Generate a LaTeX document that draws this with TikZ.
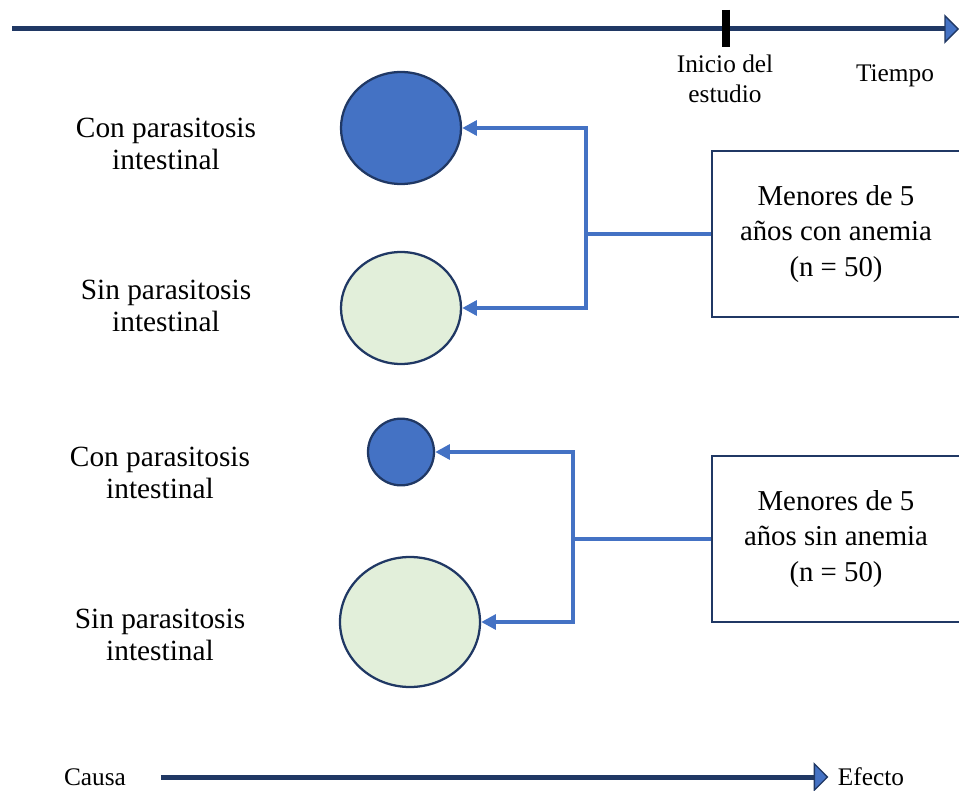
\documentclass[tikz,border=0pt]{standalone}
\usepackage{fontspec}
\setmainfont{Liberation Serif}
\usetikzlibrary{arrows.meta,shapes.geometric}
\definecolor{navy}{HTML}{203864}
\definecolor{azul}{HTML}{4472C4}
\definecolor{verde}{HTML}{E2EFDA}

\begin{document}
\begin{tikzpicture}[x=0.75pt,y=-0.75pt,
  grupo/.style={ellipse,draw=navy,line width=1.7pt,inner sep=0pt},
  caja/.style={draw=navy,line width=1.5pt,minimum width=186pt,minimum height=124.5pt,align=center,font=\fontsize{21.6}{26.6}\selectfont},
  rotulo/.style={align=center,font=\fontsize{22}{24}\selectfont},
  chico/.style={align=center,inner sep=0pt,font=\fontsize{19}{22.5}\selectfont},
  linea/.style={draw=azul,line width=3pt},
  flecha/.style={linea,-{Triangle[length=11pt,width=11pt]}},
  eje/.style={draw=navy,line width=3.75pt,-{Triangle[length=11pt,width=22pt,line width=1pt,fill=azul]}}]

\useasboundingbox (0,0) rectangle (959,791);
\clip (0,0) rectangle (959,791);

\begin{scope} % linea de tiempo
  \coordinate (origen) at (12,29);
  \coordinate (fin) at (959,29);
  \coordinate (inicio) at (726,29);
  \draw[eje] (origen) -- (fin);
  \draw[line width=6pt] (inicio) ++(0,-19) -- ++(0,37);
  \node[chico] (estudio) at (725,79) {Inicio del\\estudio};
  \node[chico] (tiempo) at (895,76) {Tiempo};
\end{scope}

\begin{scope} % con anemia
  \node[grupo,fill=azul,minimum width=90pt,minimum height=84pt] (c1) at (401,128) {};
  \node[grupo,fill=verde,minimum width=90pt,minimum height=84pt] (c2) at (401,308) {};
  \node[rotulo] (t1) at (166,144) {Con parasitosis\\intestinal};
  \node[rotulo] (t2) at (166,306) {Sin parasitosis\\intestinal};
  \node[caja] (caja1) at (836,234) {Menores de 5\\años con anemia\\(n = 50)};
  \coordinate (r1) at (586,234);
  \draw[linea] (caja1.west) -- (r1);
  \draw[flecha] (r1) |- (c1.east);
  \draw[flecha] (r1) |- (c2.east);
\end{scope}

\begin{scope} % sin anemia
  \node[grupo,fill=azul,minimum width=49.5pt,minimum height=50pt] (c3) at (401,452) {};
  \node[grupo,fill=verde,minimum width=105pt,minimum height=97.5pt] (c4) at (410,622) {};
  \node[rotulo] (t3) at (160,473) {Con parasitosis\\intestinal};
  \node[rotulo] (t4) at (160,635) {Sin parasitosis\\intestinal};
  \node[caja] (caja2) at (836,539) {Menores de 5\\años sin anemia\\(n = 50)};
  \coordinate (r2) at (573,539);
  \draw[linea] (caja2.west) -- (r2);
  \draw[flecha] (r2) |- (c3.east);
  \draw[flecha] (r2) |- (c4.east);
\end{scope}

\node[chico] (causa) at (95,777) {Causa};
\node[chico] (efecto) at (871,777) {Efecto};
\draw[eje,shorten <=26pt,shorten >=7pt] (causa.east) -- (efecto.west);

\end{tikzpicture}
\end{document}
